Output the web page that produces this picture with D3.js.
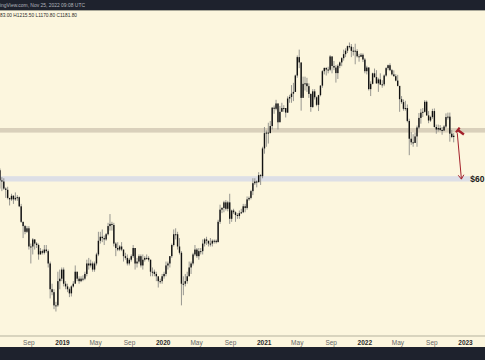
<!DOCTYPE html>
<html><head><meta charset="utf-8">
<script src="https://cdn.jsdelivr.net/npm/d3@7"></script>
<style>html,body{margin:0;padding:0;background:#FCF6DE;}svg{display:block;}</style>
</head><body><div id="chart"></div>
<script>
// Weekly candles (ETH/USD), week starting Monday, first week 2018-04-16
const firstWeek = "2018-04-16";
const firstOpen = 510;
const closes = [640,670,790,730,700,600,590,530,520,460,450,475,450,460,465,405,320,300,275,290,220,220,245,230,225,195,205,200,210,205,170,115,110,90,90,130,135,155,
125,120,115,108,120,125,150,135,130,135,135,145,170,165,170,155,170,195,240,255,250,245,265,300,310,305,230,215,210,220,210,190,185,170,180,190,215,170,175,190,165,180,185,185,180,150,150,145,140,130,130,140,
145,165,170,190,225,265,265,220,200,125,125,130,140,160,170,195,210,190,205,205,230,245,240,230,230,240,240,235,320,385,395,430,390,430,335,380,370,355,350,365,370,405,395,450,460,510,575,590,585,650,640,975,
1230,1240,1230,1370,1810,1780,1930,1450,1700,1800,1800,1680,2080,2130,2240,2300,2950,3900,3600,2100,2600,2620,2510,2230,1830,2320,2120,1890,2190,2530,3150,3310,3230,3220,3940,3410,3330,3060,3420,3600,3840,4080,4300,4610,4570,4290,4300,4280,3950,3920,4040,3760,
3150,3330,2400,2600,3050,2880,2620,2780,2570,2580,2950,3300,3450,3200,3000,2920,2730,2520,2060,1970,1780,1800,1480,1130,1070,1060,1170,1340,1550,1680,1700,1980,1610,1490,1570,1720,1350,1300,1330,1290,1280,1360,1570,1580,1220,1160,1182];
const highs = [660,710,830,800,740,720,630,620,540,545,460,490,480,500,480,470,420,320,305,300,300,230,250,245,235,230,215,210,225,225,210,175,125,115,95,150,155,160,
160,130,125,118,122,130,165,150,140,140,142,150,180,185,180,175,175,200,275,275,285,260,270,315,360,320,315,235,235,225,235,210,200,195,185,195,225,215,185,195,195,195,190,195,190,180,160,155,150,135,135,145,
150,175,175,190,230,285,290,275,250,205,140,145,150,175,175,200,225,215,215,215,245,250,255,240,250,245,245,245,330,415,400,440,445,440,490,385,390,375,365,380,390,420,420,470,470,520,620,620,600,680,660,1000,
1350,1280,1440,1480,1830,1870,2040,1930,1860,1950,1880,1800,2150,2200,2550,2640,2990,4000,4370,3580,2900,2900,2850,2620,2250,2400,2400,2150,2200,2550,3200,3330,3340,3370,4020,3950,3680,3450,3500,3650,3900,4370,4460,4650,4870,4760,4550,4780,4400,4100,4150,4130,
3850,3420,3350,2700,3080,3280,3200,2850,3050,2750,3000,3350,3480,3550,3260,3190,3010,2980,2520,2160,2050,2010,1900,1530,1250,1210,1240,1380,1670,1780,1800,2030,2020,1720,1600,1780,1790,1400,1400,1390,1350,1390,1660,1680,1680,1290,1230];
const lows = [500,590,650,660,670,530,510,520,460,450,410,440,420,440,440,400,315,250,265,270,210,170,195,210,215,180,195,195,195,200,160,100,105,85,82,88,115,130,
120,115,110,102,103,118,128,130,125,128,130,132,140,155,160,150,150,165,190,230,235,225,240,260,280,280,220,190,205,205,205,175,180,165,165,175,185,155,160,170,160,155,175,180,175,140,140,140,130,118,125,125,
135,140,155,160,185,220,245,210,195,90,105,120,125,140,145,165,190,185,180,195,195,220,225,220,220,220,230,230,235,310,365,370,380,375,310,320,360,320,335,335,360,365,370,385,440,450,480,560,540,580,560,620,
900,1000,1050,1230,1300,1650,1740,1300,1460,1720,1700,1560,1670,1950,1950,2000,2300,2850,3300,1730,2150,2350,2300,2100,1700,1800,2050,1850,1720,2150,2450,3000,2950,3050,3150,3050,3200,2650,2800,3300,3400,3700,3900,4150,4450,3900,3990,3500,3880,3640,3900,3620,
3050,3000,2350,2160,2580,2850,2600,2300,2560,2450,2510,2900,3200,3150,2950,2900,2700,2500,1700,1920,1730,1730,1450,880,1030,1000,1060,1000,1310,1420,1570,1680,1600,1430,1460,1530,1340,1220,1260,1270,1200,1270,1330,1510,1080,1140,1070];

const tickDates = ["2018-09-01","2019-01-01","2019-05-01","2019-09-01","2020-01-01","2020-05-01","2020-09-01","2021-01-01","2021-05-01","2021-09-01","2022-01-01","2022-05-01","2022-09-01","2023-01-01"];
const monthNames = ["Jan","Feb","Mar","Apr","May","Jun","Jul","Aug","Sep","Oct","Nov","Dec"];

// horizontal zones (price ranges) and projection annotations
const resistanceZone = [1240, 1330];
const supportZone = [590, 640];
const supportLabel = "$60";
const arrowFrom = ["2022-12-04", 1230];
const arrowTo = ["2022-12-19", 612];
const markFrom = ["2022-12-06", 1290];
const markTo = ["2022-12-28", 1205];
// header texts as visible in the cropped screenshot
const headerLine1 = "ingView.com, Nov 25, 2022 09:08 UTC";
const headerLine2 = "83.00 H1215.50 L1170.80 C1181.80";

const W = 485, H = 360;
const plotTop = 10.5, plotBottom = 335.5;
const parse = d3.utcParse("%Y-%m-%d");

const x = d3.scaleUtc().domain([parse("2019-01-01"), parse("2023-01-01")]).range([62, 465]);
const y = d3.scaleLog().domain([82, 4870]).range([311.5, 42.5]);

const svg = d3.select("#chart").append("svg").attr("width", W).attr("height", H)
  .style("font-family", "'Liberation Sans', Arial, sans-serif");

svg.append("rect").attr("width", W).attr("height", H).attr("fill", "#FCF6DE");

const defs = svg.append("defs");
defs.append("clipPath").attr("id", "plot").append("rect")
  .attr("x", 0).attr("y", plotTop).attr("width", W).attr("height", plotBottom - plotTop);

const g = svg.append("g").attr("clip-path", "url(#plot)");

// zones
g.append("rect").attr("x", 0).attr("width", W)
  .attr("y", y(resistanceZone[1])).attr("height", y(resistanceZone[0]) - y(resistanceZone[1]))
  .attr("fill", "#D9D0BB");
g.append("rect").attr("x", 0).attr("width", W)
  .attr("y", y(supportZone[1])).attr("height", y(supportZone[0]) - y(supportZone[1]))
  .attr("fill", "#DDDFE6");

// candles
const start = parse(firstWeek);
const data = closes.map((c, i) => ({
  date: d3.utcWeek.offset(start, i),
  open: i === 0 ? firstOpen : closes[i - 1],
  close: c, high: highs[i], low: lows[i]
}));

const cg = g.append("g");
cg.selectAll("line.wick").data(data).join("line").attr("class", "wick")
  .attr("x1", d => x(d.date)).attr("x2", d => x(d.date))
  .attr("y1", d => y(d.high)).attr("y2", d => y(d.low))
  .attr("stroke", "#8c8c88").attr("stroke-width", 0.9);
cg.selectAll("rect.body").data(data).join("rect").attr("class", "body")
  .attr("x", d => x(d.date) - 0.7).attr("width", 1.4)
  .attr("y", d => y(Math.max(d.open, d.close)))
  .attr("height", d => Math.max(1, Math.abs(y(d.open) - y(d.close))))
  .attr("fill", "#111");

// projection arrow
const ax1 = x(parse(arrowFrom[0])), ay1 = y(arrowFrom[1]);
const ax2 = x(parse(arrowTo[0])), ay2 = y(arrowTo[1]);
const red = "#A3202A";
g.append("line").attr("x1", ax1).attr("y1", ay1).attr("x2", ax2).attr("y2", ay2)
  .attr("stroke", red).attr("stroke-width", 1);
const ang = Math.atan2(ay2 - ay1, ax2 - ax1);
const hl = 5;
g.append("path")
  .attr("d", `M${ax2 - hl * Math.cos(ang - 0.6)},${ay2 - hl * Math.sin(ang - 0.6)}L${ax2},${ay2}L${ax2 - hl * Math.cos(ang + 0.6)},${ay2 - hl * Math.sin(ang + 0.6)}`)
  .attr("fill", "none").attr("stroke", red).attr("stroke-width", 1);

// red marker
const mx1 = x(parse(markFrom[0])), my1 = y(markFrom[1]);
const mx2 = x(parse(markTo[0])), my2 = y(markTo[1]);
g.append("line").attr("x1", mx1).attr("y1", my1).attr("x2", mx2).attr("y2", my2)
  .attr("stroke", red).attr("stroke-width", 2.4);
const ma = Math.atan2(my2 - my1, mx2 - mx1);
g.append("line")
  .attr("x1", mx1 + 3 * Math.sin(ma)).attr("y1", my1 - 3 * Math.cos(ma))
  .attr("x2", mx1 - 3 * Math.sin(ma)).attr("y2", my1 + 3 * Math.cos(ma))
  .attr("stroke", red).attr("stroke-width", 2.2);

// support label
const ly = y(Math.sqrt(supportZone[0] * supportZone[1]));
svg.append("rect").attr("x", 471).attr("y", ly - 6).attr("width", W - 471).attr("height", 12).attr("fill", "#FCF6DE");
svg.append("text").attr("x", 484.5).attr("y", ly + 3.2).attr("text-anchor", "end").text(supportLabel)
  .attr("font-size", 8.5).attr("font-weight", "bold").attr("fill", "#1a1a1a");

// header
svg.append("rect").attr("x", 0).attr("y", 0).attr("width", W).attr("height", 10).attr("fill", "#1E222D");
svg.append("line").attr("x1", 0).attr("x2", W).attr("y1", 10.5).attr("y2", 10.5).attr("stroke", "#A9A899").attr("stroke-width", 1);
svg.append("text").attr("x", 0).attr("y", 7.2).text(headerLine1)
  .attr("font-size", 4.9).attr("textLength", 85).attr("lengthAdjust", "spacingAndGlyphs").attr("fill", "#B2B5BE");
svg.append("text").attr("x", 0).attr("y", 17.3).text(headerLine2)
  .attr("font-size", 5.4).attr("textLength", 77).attr("lengthAdjust", "spacingAndGlyphs").attr("fill", "#2a2a2a");

// bottom axis
svg.append("line").attr("x1", 0).attr("x2", W).attr("y1", plotBottom + 0.5).attr("y2", plotBottom + 0.5)
  .attr("stroke", "#B5B29E").attr("stroke-width", 1);
const axis = d3.axisBottom(x).tickValues(tickDates.map(parse)).tickSize(0).tickPadding(0)
  .tickFormat(d => d.getUTCMonth() === 0 ? String(d.getUTCFullYear()) : monthNames[d.getUTCMonth()]);
const axG = svg.append("g").attr("transform", `translate(0,${plotBottom + 1})`).call(axis);
axG.select(".domain").remove();
axG.selectAll("text")
  .attr("dy", null).attr("y", 8)
  .attr("font-size", 6.5)
  .attr("font-family", "'Liberation Sans', Arial, sans-serif")
  .attr("font-weight", d => d.getUTCMonth() === 0 ? "bold" : "normal")
  .attr("fill", d => d.getUTCMonth() === 0 ? "#2a2a2a" : "#666");
svg.append("rect").attr("x", 0).attr("y", 347).attr("width", W).attr("height", H - 347).attr("fill", "#1E222D");
</script></body></html>
